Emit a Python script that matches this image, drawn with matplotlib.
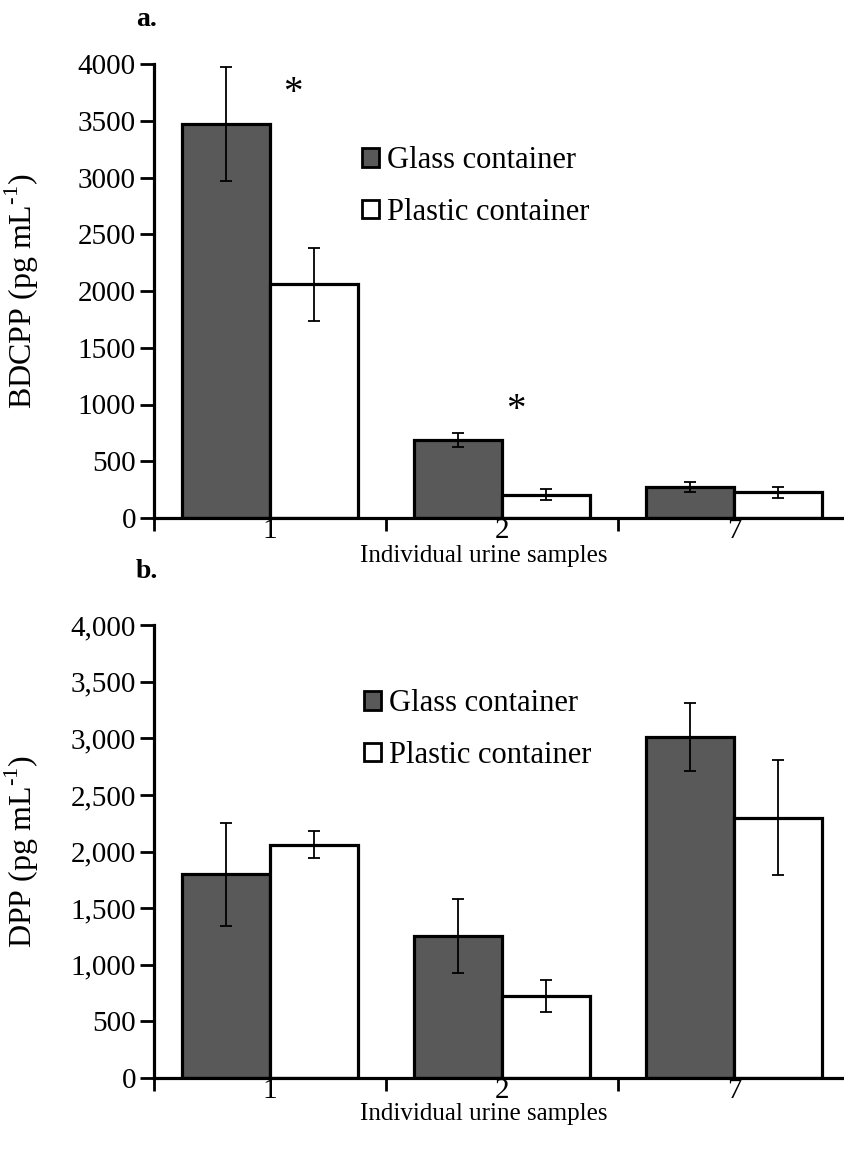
import numpy as np
import matplotlib
matplotlib.use("Agg")
import matplotlib.pyplot as plt
from matplotlib.patches import Patch
from matplotlib.ticker import FuncFormatter

plt.rcParams['font.family'] = ['Liberation Serif', 'DejaVu Serif']
plt.rcParams['mathtext.fontset'] = 'custom'
plt.rcParams['mathtext.rm'] = 'Liberation Serif'

# --- data ---
samples = ["1", "2", "7"]
series = ["Glass container", "Plastic container"]

bdcpp_glass = [3470, 685, 270]
bdcpp_glass_err = [505, 60, 45]
bdcpp_plastic = [2060, 205, 225]
bdcpp_plastic_err = [320, 50, 45]

dpp_glass = [1800, 1255, 3015]
dpp_glass_err = [455, 325, 300]
dpp_plastic = [2060, 725, 2300]
dpp_plastic_err = [120, 140, 505]

# significance markers (category position, y value)
stars_a = [(0.6, 3740), (1.56, 950)]

GLASS = "#595959"
W = 0.38
FS = 21

fig = plt.figure(figsize=(8.45, 11.5), dpi=100)
ax_a = fig.add_axes([154/845, 1-518/1150, 696/845, 454/1150])
ax_b = fig.add_axes([154/845, 1-1078/1150, 696/845, 453/1150])


def draw_panel(ax, g, ge, p, pe, ylab, comma):
    x = np.arange(len(samples)) + 0.5
    ax.bar(x - W/2, g, W, color=GLASS, edgecolor="black", linewidth=2.3, zorder=2)
    ax.bar(x + W/2, p, W, color="white", edgecolor="black", linewidth=2.3, zorder=2)
    ax.errorbar(x - W/2, g, yerr=ge, fmt="none", ecolor="black", elinewidth=1.3,
                capsize=4.5, capthick=1.3, zorder=3)
    ax.errorbar(x + W/2, p, yerr=pe, fmt="none", ecolor="black", elinewidth=1.3,
                capsize=4.5, capthick=1.3, zorder=3)
    ax.set_xlim(0, 3)
    ax.set_ylim(0, 4000)
    ax.set_yticks(np.arange(0, 4001, 500))
    if comma:
        ax.yaxis.set_major_formatter(FuncFormatter(lambda v, _: f"{int(v):,}"))
    ax.set_xticks([0, 1, 2, 3])
    ax.set_xticklabels([])
    ax.set_xticks(x, minor=True)
    ax.set_xticklabels(samples, minor=True, fontsize=FS)
    ax.tick_params(axis="x", which="major", direction="out", length=9, width=2)
    ax.tick_params(axis="x", which="minor", length=0, pad=0)
    ax.tick_params(axis="y", direction="out", length=10, width=2, labelsize=FS, pad=3)
    for s in ["top", "right"]:
        ax.spines[s].set_visible(False)
    for s in ["left", "bottom"]:
        ax.spines[s].set_linewidth(2.3)
    ax.set_ylabel(ylab, fontsize=23)
    ax.yaxis.set_label_coords(-0.163, 0.5)
    handles = [Patch(facecolor=GLASS, edgecolor="black", linewidth=2),
               Patch(facecolor="white", edgecolor="black", linewidth=2)]
    return handles


leg_kw = dict(loc="center left", frameon=False, fontsize=22, handlelength=0.55,
              handleheight=0.55, handletextpad=0.25, labelspacing=0.75,
              borderaxespad=0, borderpad=0)

h = draw_panel(ax_a, bdcpp_glass, bdcpp_glass_err, bdcpp_plastic, bdcpp_plastic_err,
               r"BDCPP (pg mL$^{\text{-1}}$)", False)
ax_a.legend(h, series, bbox_to_anchor=(0.299, 0.730), **leg_kw)
for xs, ys in stars_a:
    ax_a.text(xs, ys, "*", fontsize=28, ha="center", va="center")

h = draw_panel(ax_b, dpp_glass, dpp_glass_err, dpp_plastic, dpp_plastic_err,
               r"DPP (pg mL$^{\text{-1}}$)", True)
ax_b.legend(h, series, bbox_to_anchor=(0.302, 0.769), **leg_kw)

fig.text(484/845, 1-556/1150, "Individual urine samples", fontsize=18, ha="center", va="center")
fig.text(484/845, 1-1114/1150, "Individual urine samples", fontsize=18, ha="center", va="center")
fig.text(147/845, 1-20/1150, "a.", fontsize=20, fontweight="bold", ha="center", va="center")
fig.text(147/845, 1-572/1150, "b.", fontsize=20, fontweight="bold", ha="center", va="center")

fig.savefig("out.png", dpi=100)
